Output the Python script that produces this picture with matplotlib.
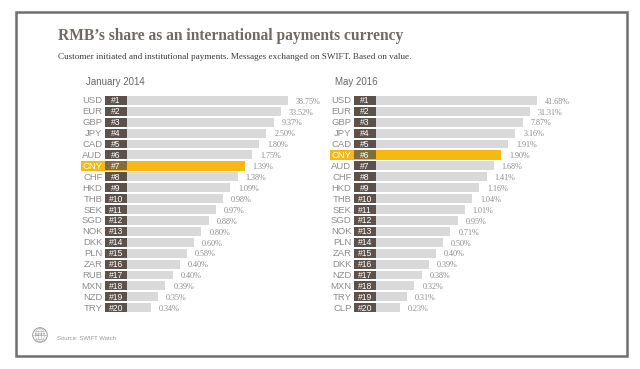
import numpy as np
import matplotlib
matplotlib.use("Agg")
import matplotlib.pyplot as plt
from matplotlib.patches import Rectangle, Circle, Ellipse

# data
cur_2014 = ["USD", "EUR", "GBP", "JPY", "CAD", "AUD", "CNY", "CHF", "HKD", "THB",
            "SEK", "SGD", "NOK", "DKK", "PLN", "ZAR", "RUB", "MXN", "NZD", "TRY"]
share_2014 = [38.75, 33.52, 9.37, 2.50, 1.80, 1.75, 1.39, 1.38, 1.09, 0.98,
              0.97, 0.88, 0.80, 0.60, 0.58, 0.40, 0.40, 0.39, 0.35, 0.34]

cur_2016 = ["USD", "EUR", "GBP", "JPY", "CAD", "CNY", "AUD", "CHF", "HKD", "THB",
            "SEK", "SGD", "NOK", "PLN", "ZAR", "DKK", "NZD", "MXN", "TRY", "CLP"]
share_2016 = [41.68, 31.31, 7.87, 3.16, 1.91, 1.90, 1.68, 1.41, 1.16, 1.04,
              1.01, 0.95, 0.71, 0.50, 0.40, 0.39, 0.38, 0.32, 0.31, 0.23]

W, H = 640, 369
DARK = "#5d524b"
BAR = "#d9d9d9"
YEL = "#f5b912"
GREY = "#8c8c8c"

fig = plt.figure(figsize=(W / 100, H / 100), dpi=100)


def fx(x):
    return x / W


def fy(y):
    return 1 - y / H


# frame around the slide
fig.add_artist(Rectangle((fx(16), fy(356)), fx(627) - fx(16), fy(12) - fy(356),
                         transform=fig.transFigure, fill=False, ec="#6f6f6f", lw=1.8))

fig.text(fx(58), fy(36), "RMB\u2019s share as an international payments currency",
         family="Liberation Serif", weight="bold", fontsize=11.2, color="#6e6a66", va="center")
fig.text(fx(58), fy(57), "Customer initiated and institutional payments. Messages exchanged on SWIFT. Based on value.",
         family="Liberation Serif", fontsize=6.55, color="#3a3a3a", va="center")


def panel(left_px, title, cur, share):
    top, bot = 92.7, 315.4
    ax = fig.add_axes([fx(left_px), fy(bot), 252 / W, (bot - top) / H])
    ax.set_xlim(-6.8, 28.16)
    ax.set_ylim(19.7, -0.7)
    ax.set_axis_off()
    n = len(cur)
    rank = np.arange(1, n + 1)
    y = rank - 1
    length = 23.33 - rank  # bars shrink with rank, as in the original
    for yi, c, r, v, L in zip(y, cur, rank, share, length):
        hl = c == "CNY"
        if hl:
            ax.add_patch(Rectangle((-6.35, yi - 0.48), L + 6.35, 0.96, color=YEL, lw=0, zorder=1))
        ax.barh(yi, L, height=0.82, left=0, color=YEL if hl else BAR, zorder=2)
        ax.barh(yi, 3.05, height=0.82, left=-3.05, color=DARK, alpha=0.75 if hl else 1, zorder=2)
        ax.text(-3.4, yi + 0.05, c, ha="right", va="center", fontsize=6.8,
                family="Liberation Sans", color="white" if hl else GREY, zorder=3)
        ax.text(-1.52, yi + 0.05, f"#{r}", ha="center", va="center", fontsize=6.2,
                family="Liberation Sans", color="white", zorder=3)
        ax.text(L + 1.1, yi + 0.12, f"{v:.2f}%", ha="left", va="center", fontsize=5.9,
                family="Liberation Serif", color=GREY, zorder=3)
    fig.text(fx(left_px + 8), fy(82), title, family="Liberation Sans", fontsize=7,
             color="#666666", va="center")
    return ax


panel(78, "January 2014", cur_2014, share_2014)
panel(327, "May 2016", cur_2016, share_2016)

# SWIFT globe logo and source note
lax = fig.add_axes([fx(32), fy(343), 16 / W, 16 / H])
lax.set_xlim(-1.1, 1.1)
lax.set_ylim(-1.1, 1.1)
lax.set_aspect("equal")
lax.set_axis_off()
lax.add_patch(Circle((0, 0), 1, fill=False, ec="#9a9a9a", lw=0.7))
for w in [0.4, 1.2]:
    lax.add_patch(Ellipse((0, 0), w, 2, fill=False, ec="#b0b0b0", lw=0.4))
for yy in [-0.5, 0, 0.5]:
    xx = np.sqrt(1 - yy ** 2)
    lax.plot([-xx, xx], [yy, yy], color="#b0b0b0", lw=0.4)
lax.text(0, 0, "SWIFT", ha="center", va="center", fontsize=2.5, color="#888888")

fig.text(fx(57), fy(339), "Source: SWIFT Watch", family="Liberation Sans", fontsize=4.3,
         color="#999999", va="center")

fig.savefig("out.png", dpi=100)
